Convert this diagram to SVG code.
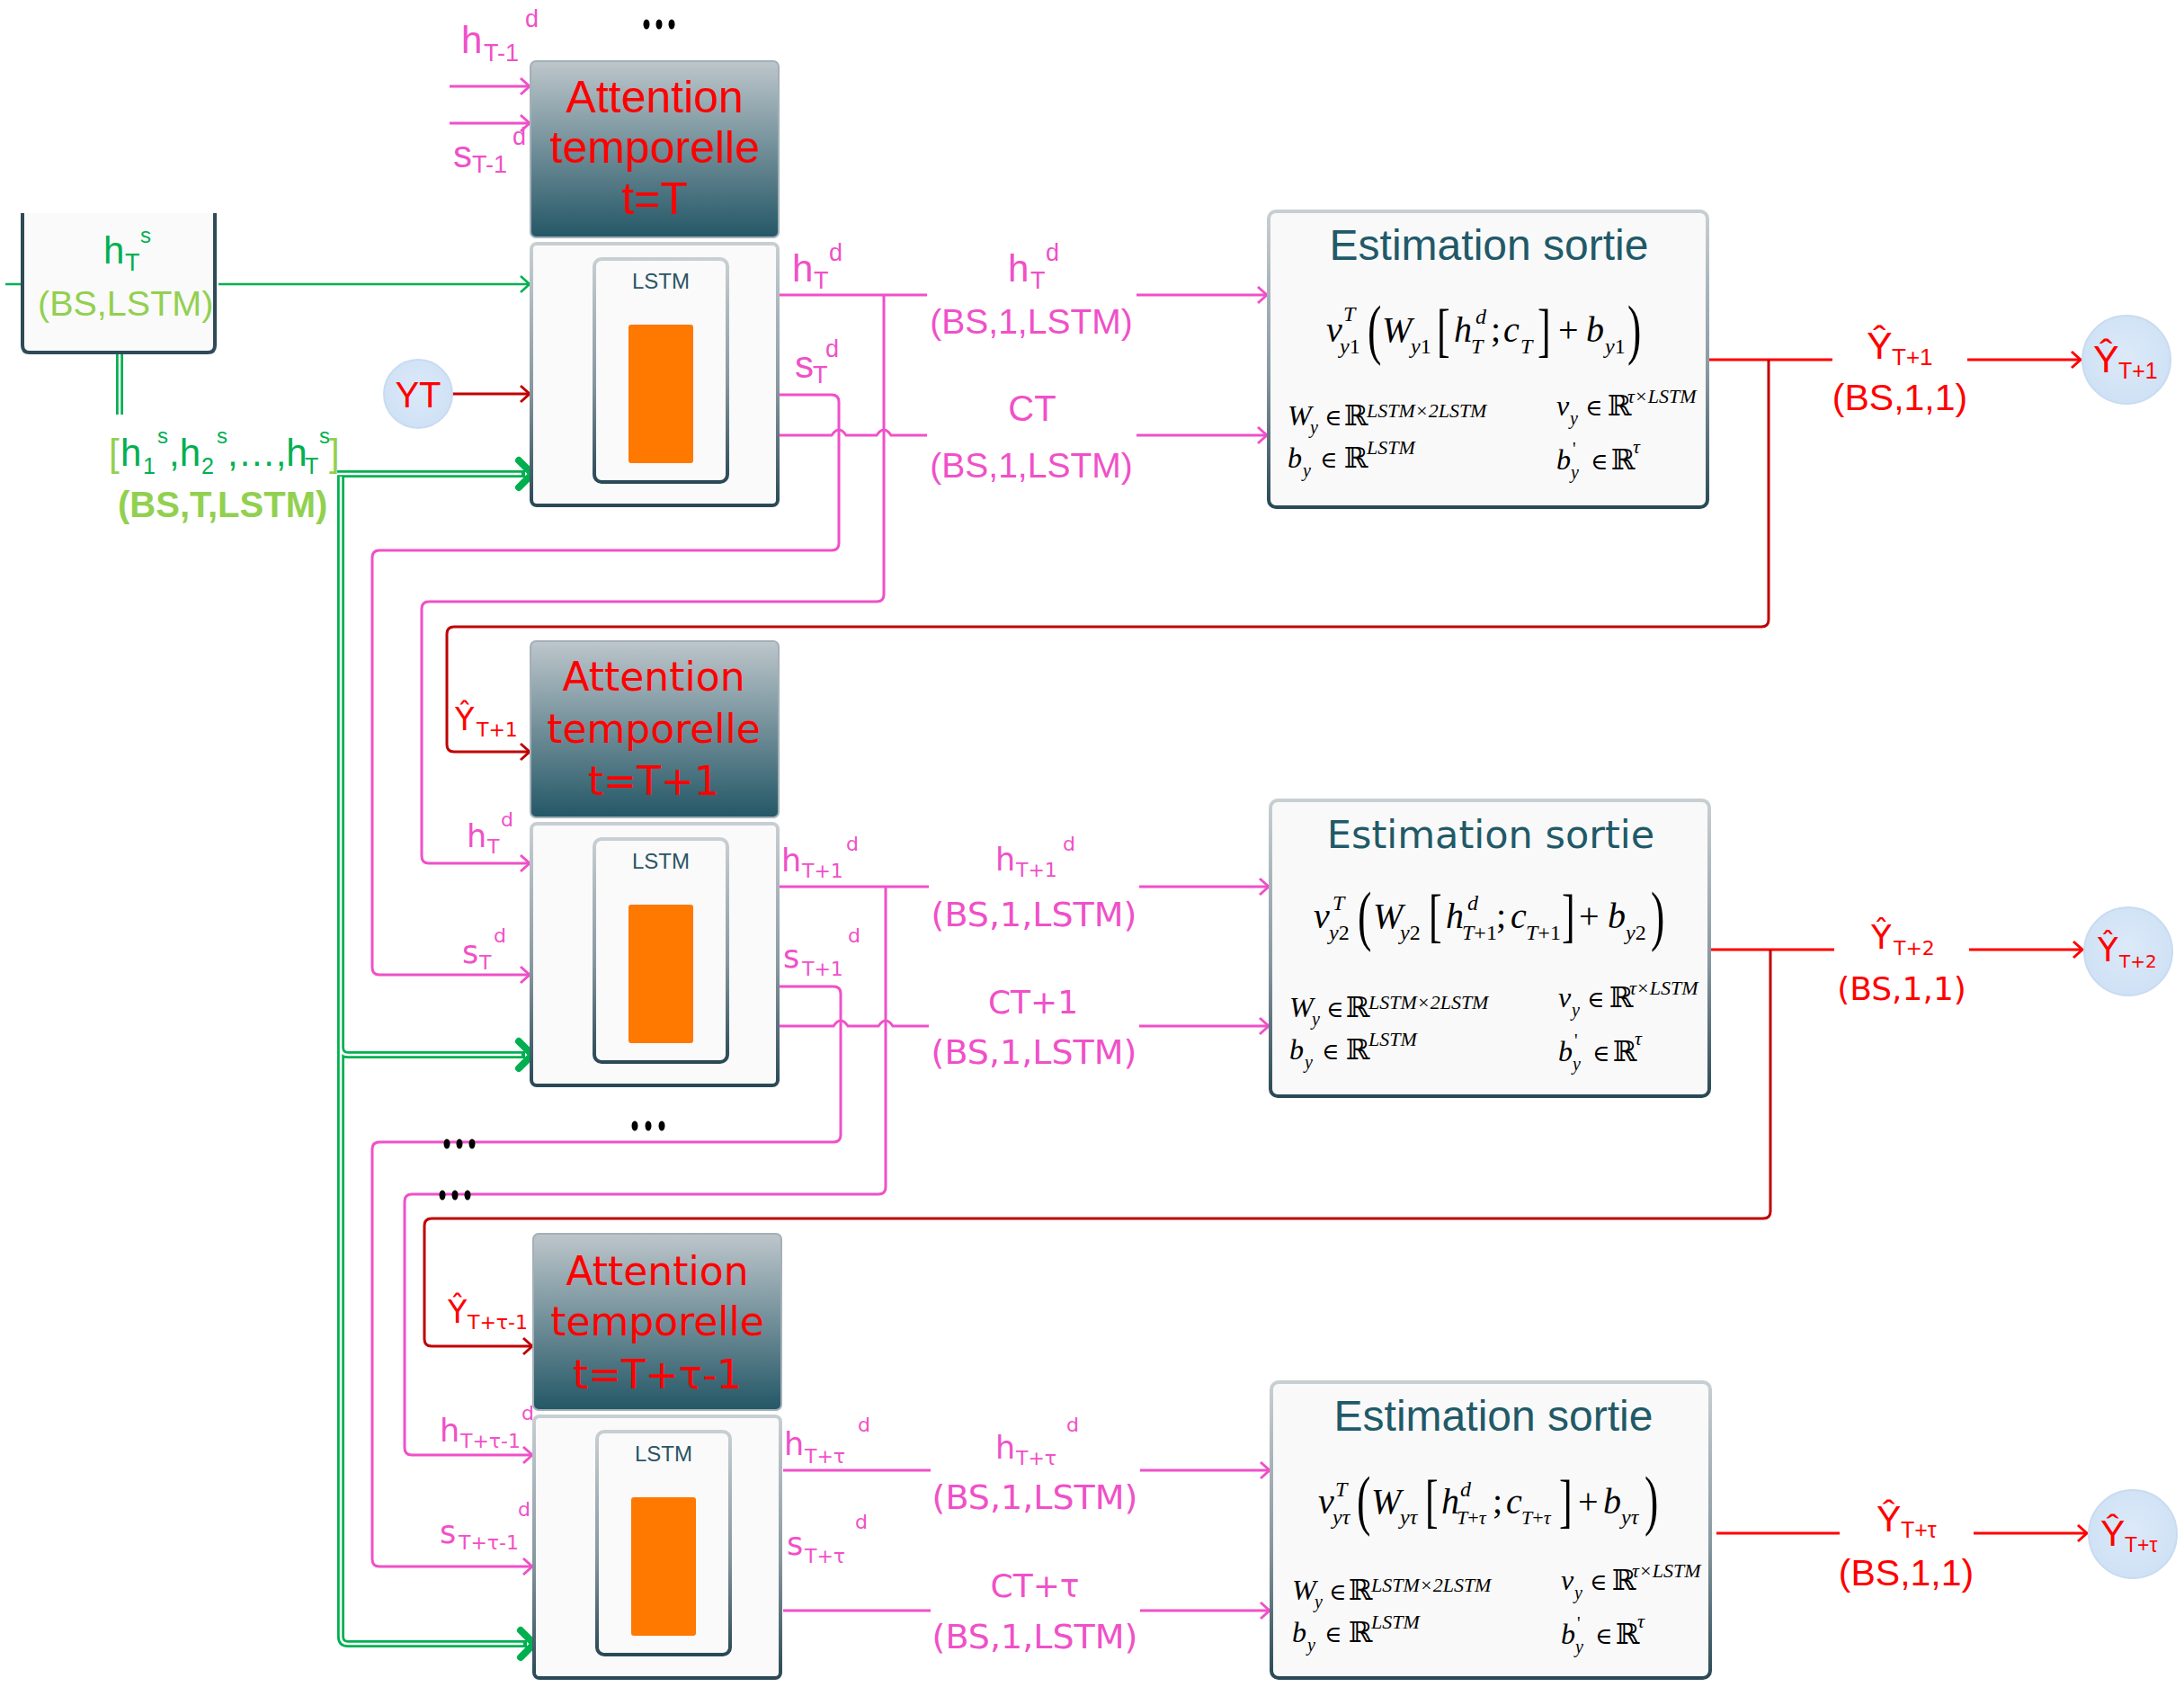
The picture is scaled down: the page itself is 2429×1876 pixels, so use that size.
<svg xmlns="http://www.w3.org/2000/svg" width="2429" height="1876" viewBox="0 0 2429 1876">
<style>
.ls{font-family:"Liberation Sans",Arial,sans-serif}
.dv{font-family:"DejaVu Sans",Verdana,sans-serif}
.mi{font-family:"Liberation Serif","DejaVu Serif","Times New Roman",serif;font-style:italic;fill:#000}
.mr{font-family:"Liberation Serif","DejaVu Serif","Times New Roman",serif;font-style:normal}
.bb{font-family:"DejaVu Serif",serif;font-style:normal}
.pk{fill:#F050C8}
.rd{fill:#FF0000}
.gr{fill:#00B050}
.lg{fill:#92D050}
.tl{fill:#215968}
.c{text-anchor:middle}
.wpk{fill:none;stroke:#F050C8;stroke-width:3}
.wrd{fill:none;stroke:#FF0000;stroke-width:3}
.wdr{fill:none;stroke:#C00000;stroke-width:3}
.wgr{fill:none;stroke:#00B050;stroke-width:2.5}
.bus{fill:none;stroke:#00B050;stroke-width:8}
.busin{fill:none;stroke:#FFFFFF;stroke-width:2.5}
.chev{fill:none;stroke:#00B050;stroke-width:8;stroke-linecap:round;stroke-linejoin:round}
.ball{fill:url(#gBall);stroke:#C9DBF0;stroke-width:2}
.dot{fill:#000}
</style>
<defs>
  <linearGradient id="gHead" x1="0" y1="0" x2="0" y2="1">
    <stop offset="0" stop-color="#BDC6CB"/>
    <stop offset="1" stop-color="#245766"/>
  </linearGradient>
  <linearGradient id="gEdge" x1="0" y1="0" x2="0" y2="1">
    <stop offset="0" stop-color="#C8CFD3"/>
    <stop offset="0.55" stop-color="#8797A0"/>
    <stop offset="1" stop-color="#2A4956"/>
  </linearGradient>
  <radialGradient id="gBall" cx="0.5" cy="0.45" r="0.55">
    <stop offset="0" stop-color="#DCEAF9"/>
    <stop offset="1" stop-color="#CFE1F5"/>
  </radialGradient>
  <marker id="mPk" markerUnits="userSpaceOnUse" markerWidth="16" markerHeight="22" refX="12" refY="11" orient="auto" overflow="visible">
    <path d="M2,2 L12,11 L2,20" fill="none" stroke="#F050C8" stroke-width="3"/>
  </marker>
  <marker id="mRd" markerUnits="userSpaceOnUse" markerWidth="16" markerHeight="22" refX="12" refY="11" orient="auto" overflow="visible">
    <path d="M2,2 L12,11 L2,20" fill="none" stroke="#FF0000" stroke-width="3"/>
  </marker>
  <marker id="mDr" markerUnits="userSpaceOnUse" markerWidth="16" markerHeight="22" refX="12" refY="11" orient="auto" overflow="visible">
    <path d="M2,2 L12,11 L2,20" fill="none" stroke="#C00000" stroke-width="3"/>
  </marker>
  <marker id="mGr" markerUnits="userSpaceOnUse" markerWidth="16" markerHeight="22" refX="12" refY="11" orient="auto" overflow="visible">
    <path d="M2,2 L12,11 L2,20" fill="none" stroke="#00B050" stroke-width="2.5"/>
  </marker>
  <!-- attention header + LSTM cell, drawn once and reused per time step -->
  <g id="cell">
    <rect x="590" y="68" width="276" height="196" rx="6" fill="url(#gHead)" stroke="#A3B0B7" stroke-width="2"/>
    <rect x="591" y="271" width="274" height="291" rx="6" fill="#FAFAFA" stroke="url(#gEdge)" stroke-width="4"/>
    <rect x="661" y="288" width="148" height="248" rx="8" fill="#FAFAFA" stroke="url(#gEdge)" stroke-width="4"/>
    <rect x="699" y="361" width="72" height="154" rx="3" fill="#FF7800"/>
  </g>
  <g id="estBox">
    <rect x="0" y="0" width="488" height="329" rx="8" fill="#F9F9F9" stroke="url(#gEdge)" stroke-width="4"/>
  </g>
</defs>

<rect width="2429" height="1876" fill="#FFFFFF"/>

<!-- connectors -->
<g id="connectors">
  <!-- green encoder links -->
  <path class="wgr" d="M6,316 H40"/>
  <path class="wgr" d="M243,316 H589" marker-end="url(#mGr)"/>
  <path class="bus" d="M133,392 V461"/>
  <path class="busin" d="M133,392 V461"/>
  <path class="bus" d="M375,527 H584 M379,527 V1820 Q379,1828 387,1828 H586 M379,1165 Q379,1173 387,1173 H584"/>
  <path class="busin" d="M375,527 H580 M379,530 V1820 Q379,1828 387,1828 H582 M379,1165 Q379,1173 387,1173 H580"/>
  <path class="chev" d="M577,512 L592,527 L577,542"/>
  <path class="chev" d="M577,1158 L592,1173 L577,1188"/>
  <path class="chev" d="M579,1813 L594,1828 L579,1843"/>

  <!-- step T inputs -->
  <path class="wpk" d="M500,96 H589" marker-end="url(#mPk)"/>
  <path class="wpk" d="M500,137 H589" marker-end="url(#mPk)"/>
  <path class="wdr" d="M502,438 H589" marker-end="url(#mDr)"/>

  <!-- step T outputs -->
  <path class="wpk" d="M866,328 H1031"/>
  <path class="wpk" d="M1264,328 H1409" marker-end="url(#mPk)"/>
  <path class="wpk" d="M866,484 H925 q8,-12 16,0 H975 q8,-12 16,0 H1031"/>
  <path class="wpk" d="M1264,484 H1409" marker-end="url(#mPk)"/>
  <path class="wpk" d="M866,439 H925 q8,0 8,8 V604 q0,8 -8,8 H422 q-8,0 -8,8 V1076 q0,8 8,8 H589" marker-end="url(#mPk)"/>
  <path class="wpk" d="M983,328 V661 q0,8 -8,8 H477 q-8,0 -8,8 V952 q0,8 8,8 H589" marker-end="url(#mPk)"/>
  <path class="wrd" d="M1900,400 H2038"/>
  <path class="wrd" d="M2188,400 H2314" marker-end="url(#mRd)"/>
  <path class="wdr" d="M1967,400 V689 q0,8 -8,8 H505 q-8,0 -8,8 V828 q0,8 8,8 H589" marker-end="url(#mDr)"/>

  <!-- step T+1 outputs -->
  <path class="wpk" d="M867,986 H1033"/>
  <path class="wpk" d="M1267,986 H1411" marker-end="url(#mPk)"/>
  <path class="wpk" d="M867,1141 H927 q8,-12 16,0 H977 q8,-12 16,0 H1033"/>
  <path class="wpk" d="M1267,1141 H1411" marker-end="url(#mPk)"/>
  <path class="wpk" d="M867,1097 H927 q8,0 8,8 V1262 q0,8 -8,8 H422 q-8,0 -8,8 V1734 q0,8 8,8 H592" marker-end="url(#mPk)"/>
  <path class="wpk" d="M985,986 V1320 q0,8 -8,8 H458 q-8,0 -8,8 V1610 q0,8 8,8 H592" marker-end="url(#mPk)"/>
  <path class="wrd" d="M1902,1056 H2040"/>
  <path class="wrd" d="M2190,1056 H2316" marker-end="url(#mRd)"/>
  <path class="wdr" d="M1969,1056 V1347 q0,8 -8,8 H480 q-8,0 -8,8 V1489 q0,8 8,8 H592" marker-end="url(#mDr)"/>

  <!-- step T+tau outputs -->
  <path class="wpk" d="M871,1635 H1035"/>
  <path class="wpk" d="M1268,1635 H1412" marker-end="url(#mPk)"/>
  <path class="wpk" d="M871,1791 H1035"/>
  <path class="wpk" d="M1268,1791 H1412" marker-end="url(#mPk)"/>
  <path class="wrd" d="M1909,1705 H2046"/>
  <path class="wrd" d="M2195,1705 H2321" marker-end="url(#mRd)"/>

  <!-- ellipsis dots -->
  <ellipse class="dot" cx="719" cy="27" rx="3.5" ry="5.5"/>
  <ellipse class="dot" cx="733" cy="27" rx="3.5" ry="5.5"/>
  <ellipse class="dot" cx="747" cy="27" rx="3.5" ry="5.5"/>
  <ellipse class="dot" cx="706" cy="1252" rx="3.5" ry="5.5"/>
  <ellipse class="dot" cx="721" cy="1252" rx="3.5" ry="5.5"/>
  <ellipse class="dot" cx="736" cy="1252" rx="3.5" ry="5.5"/>
  <ellipse class="dot" cx="497" cy="1272" rx="3.5" ry="5.5"/>
  <ellipse class="dot" cx="511" cy="1272" rx="3.5" ry="5.5"/>
  <ellipse class="dot" cx="525" cy="1272" rx="3.5" ry="5.5"/>
  <ellipse class="dot" cx="492" cy="1329" rx="3.5" ry="5.5"/>
  <ellipse class="dot" cx="506" cy="1329" rx="3.5" ry="5.5"/>
  <ellipse class="dot" cx="520" cy="1329" rx="3.5" ry="5.5"/>
</g>

<!-- encoder hidden state -->
<g id="encoder-state">
  <rect x="25" y="237" width="214" height="153" fill="#FAFAFA"/>
  <path d="M25,237 V384 q0,8 8,8 H231 q8,0 8,-8 V237" fill="none" stroke="#2E4B57" stroke-width="4"/>
  <text class="ls gr" font-size="42"><tspan x="115" y="293">h</tspan><tspan x="139" y="301" font-size="27">T</tspan><tspan x="156" y="270" font-size="24">s</tspan></text>
  <text class="ls lg" x="42" y="351" font-size="39.5">(BS,LSTM)</text>
</g>

<g id="encoder-sequence">
  <text class="ls gr" font-size="42"><tspan class="lg" x="121" y="518">[</tspan><tspan x="134" y="518">h</tspan><tspan x="159" y="527" font-size="25">1</tspan><tspan x="175" y="493" font-size="24">s</tspan><tspan x="188" y="518">,h</tspan><tspan x="224" y="527" font-size="25">2</tspan><tspan x="241" y="493" font-size="24">s</tspan><tspan x="253" y="518">,…,h</tspan><tspan x="339" y="527" font-size="25">T</tspan><tspan x="355" y="493" font-size="24">s</tspan><tspan class="lg" x="366" y="518">]</tspan></text>
  <text class="ls lg" x="131" y="575" font-size="40" font-weight="bold">(BS,T,LSTM)</text>
</g>

<g id="input-yt">
  <circle class="ball" cx="465" cy="438" r="38"/>
  <text class="ls rd c" x="465" y="453" font-size="40">YT</text>
</g>

<!-- decoder step t=T -->
<g id="step-T">
  <use href="#cell"/>
  <text class="ls rd c" font-size="50"><tspan x="728" y="125">Attention</tspan><tspan x="728" y="181">temporelle</tspan><tspan x="728" y="238">t=T</tspan></text>
  <text class="ls c" x="735" y="321" font-size="24" fill="#2A5565">LSTM</text>
  <text class="ls pk" font-size="42"><tspan x="513" y="59">h</tspan><tspan x="538" y="68" font-size="27">T-1</tspan><tspan x="584" y="30" font-size="27">d</tspan></text>
  <text class="ls pk" font-size="42"><tspan x="504" y="186">s</tspan><tspan x="525" y="192" font-size="27">T-1</tspan><tspan x="570" y="161" font-size="27">d</tspan></text>
  <text class="ls pk" font-size="42"><tspan x="881" y="313">h</tspan><tspan x="905" y="321" font-size="27">T</tspan><tspan x="922" y="290" font-size="27">d</tspan></text>
  <text class="ls pk" font-size="42"><tspan x="884" y="420">s</tspan><tspan x="904" y="426" font-size="27">T</tspan><tspan x="918" y="397" font-size="27">d</tspan></text>
  <text class="ls pk" font-size="42"><tspan x="1121" y="313">h</tspan><tspan x="1146" y="321" font-size="27">T</tspan><tspan x="1163" y="290" font-size="27">d</tspan></text>
  <text class="ls pk c" x="1147" y="371" font-size="39">(BS,1,LSTM)</text>
  <text class="ls pk c" x="1148" y="468" font-size="40">CT</text>
  <text class="ls pk c" x="1147" y="531" font-size="39">(BS,1,LSTM)</text>
</g>

<g id="output-T">
  <use href="#estBox" x="1411" y="235"/>
  <text class="ls tl c" x="1656" y="289" font-size="48">Estimation sortie</text>
  <g class="mi" font-size="40">
    <text x="1475" y="380">v</text>
    <text x="1494" y="357" font-size="24">T</text>
    <text x="1490" y="393" font-size="24">y<tspan class="mr">1</tspan></text>
    <text class="mr" font-size="46" transform="translate(1521,391) scale(1,1.6)">(</text>
    <text x="1537" y="380">W</text>
    <text x="1569" y="393" font-size="24">y<tspan class="mr">1</tspan></text>
    <text class="mr" font-size="44" transform="translate(1598,389) scale(1,1.5)">[</text>
    <text x="1617" y="380">h</text>
    <text x="1641" y="360" font-size="24">d</text>
    <text x="1636" y="393" font-size="24">T</text>
    <text class="mr" x="1658" y="380">;</text>
    <text x="1672" y="380">c</text>
    <text x="1691" y="393" font-size="24">T</text>
    <text class="mr" font-size="44" transform="translate(1710,389) scale(1,1.5)">]</text>
    <text class="mr" x="1733" y="380">+</text>
    <text x="1764" y="380">b</text>
    <text x="1785" y="393" font-size="24">y<tspan class="mr">1</tspan></text>
    <text class="mr" font-size="46" transform="translate(1810,391) scale(1,1.6)">)</text>
  </g>
  <g class="mi" font-size="32" transform="translate(1411,235)">
    <text x="21" y="238">W</text><text x="46" y="247" font-size="20">y</text>
    <text class="mr" x="62" y="238" font-size="26">∈</text><text class="bb" x="84" y="238">ℝ</text>
    <text x="109" y="229" font-size="22">LSTM×2LSTM</text>
    <text x="21" y="285">b</text><text x="38" y="295" font-size="20">y</text>
    <text class="mr" x="57" y="285" font-size="26">∈</text><text class="bb" x="84" y="285">ℝ</text>
    <text x="109" y="270" font-size="22">LSTM</text>
    <text x="320" y="227">v</text><text x="335" y="237" font-size="20">y</text>
    <text class="mr" x="352" y="227" font-size="26">∈</text><text class="bb" x="377" y="227">ℝ</text>
    <text x="399" y="213" font-size="22">τ×LSTM</text>
    <text x="320" y="287">b</text><text class="mr" x="338" y="271" font-size="20">'</text><text x="336" y="297" font-size="20">y</text>
    <text class="mr" x="358" y="287" font-size="26">∈</text><text class="bb" x="381" y="287">ℝ</text>
    <text x="405" y="269" font-size="22">τ</text>
  </g>
  <text class="ls rd" font-size="43"><tspan x="2076" y="399">Ŷ</tspan><tspan x="2104" y="406" font-size="26">T+1</tspan></text>
  <text class="ls rd c" x="2113" y="456" font-size="41">(BS,1,1)</text>
</g>

<g id="pred-T1">
  <circle class="ball" cx="2365" cy="400" r="49"/>
  <text class="ls rd" font-size="43"><tspan x="2328" y="414">Ŷ</tspan><tspan x="2356" y="421" font-size="25">T+1</tspan></text>
</g>

<!-- decoder step t=T+1 -->
<g id="step-T1">
  <use href="#cell" y="645"/>
  <text class="dv rd c" font-size="44"><tspan x="727" y="768">Attention</tspan><tspan x="727" y="826">temporelle</tspan><tspan x="727" y="884">t=T+1</tspan></text>
  <text class="ls c" x="735" y="966" font-size="24" fill="#2A5565">LSTM</text>
  <text class="dv rd" font-size="35"><tspan x="506" y="812">Ŷ</tspan><tspan x="530" y="819" font-size="22">T+1</tspan></text>
  <text class="dv pk" font-size="35"><tspan x="519" y="942">h</tspan><tspan x="542" y="949" font-size="22">T</tspan><tspan x="557" y="919" font-size="22">d</tspan></text>
  <text class="dv pk" font-size="35"><tspan x="514" y="1071">s</tspan><tspan x="533" y="1078" font-size="22">T</tspan><tspan x="549" y="1048" font-size="22">d</tspan></text>
  <text class="dv pk" font-size="35"><tspan x="869" y="969">h</tspan><tspan x="892" y="976" font-size="22">T+1</tspan><tspan x="941" y="946" font-size="22">d</tspan></text>
  <text class="dv pk" font-size="35"><tspan x="871" y="1076">s</tspan><tspan x="892" y="1085" font-size="22">T+1</tspan><tspan x="943" y="1048" font-size="22">d</tspan></text>
  <text class="dv pk" font-size="35"><tspan x="1107" y="968">h</tspan><tspan x="1130" y="975" font-size="22">T+1</tspan><tspan x="1182" y="946" font-size="22">d</tspan></text>
  <text class="dv pk c" x="1150" y="1030" font-size="38">(BS,1,LSTM)</text>
  <text class="dv pk c" x="1149" y="1127" font-size="36">CT+1</text>
  <text class="dv pk c" x="1150" y="1183" font-size="38">(BS,1,LSTM)</text>
</g>

<g id="output-T1">
  <use href="#estBox" x="1413" y="890" />
  <text class="dv tl c" x="1658" y="943" font-size="43">Estimation sortie</text>
  <g class="mi" font-size="40">
    <text x="1461" y="1032">v</text>
    <text x="1482" y="1012" font-size="24">T</text>
    <text x="1478" y="1045" font-size="24">y<tspan class="mr">2</tspan></text>
    <text class="mr" font-size="46" transform="translate(1510,1043) scale(1,1.6)">(</text>
    <text x="1527" y="1032">W</text>
    <text x="1557" y="1045" font-size="24">y<tspan class="mr">2</tspan></text>
    <text class="mr" font-size="44" transform="translate(1589,1040) scale(1,1.5)">[</text>
    <text x="1608" y="1032">h</text>
    <text x="1632" y="1012" font-size="24">d</text>
    <text x="1626" y="1045" font-size="24">T<tspan class="mr">+1</tspan></text>
    <text class="mr" x="1664" y="1032">;</text>
    <text x="1680" y="1032">c</text>
    <text x="1697" y="1045" font-size="24">T<tspan class="mr">+1</tspan></text>
    <text class="mr" font-size="44" transform="translate(1737,1040) scale(1,1.5)">]</text>
    <text class="mr" x="1756" y="1032">+</text>
    <text x="1788" y="1032">b</text>
    <text x="1808" y="1045" font-size="24">y<tspan class="mr">2</tspan></text>
    <text class="mr" font-size="46" transform="translate(1836,1043) scale(1,1.6)">)</text>
  </g>
  <g class="mi" font-size="32" transform="translate(1413,893)">
    <text x="21" y="238">W</text><text x="46" y="247" font-size="20">y</text>
    <text class="mr" x="62" y="238" font-size="26">∈</text><text class="bb" x="84" y="238">ℝ</text>
    <text x="109" y="229" font-size="22">LSTM×2LSTM</text>
    <text x="21" y="285">b</text><text x="38" y="295" font-size="20">y</text>
    <text class="mr" x="57" y="285" font-size="26">∈</text><text class="bb" x="84" y="285">ℝ</text>
    <text x="109" y="270" font-size="22">LSTM</text>
    <text x="320" y="227">v</text><text x="335" y="237" font-size="20">y</text>
    <text class="mr" x="352" y="227" font-size="26">∈</text><text class="bb" x="377" y="227">ℝ</text>
    <text x="399" y="213" font-size="22">τ×LSTM</text>
    <text x="320" y="287">b</text><text class="mr" x="338" y="271" font-size="20">'</text><text x="336" y="297" font-size="20">y</text>
    <text class="mr" x="358" y="287" font-size="26">∈</text><text class="bb" x="381" y="287">ℝ</text>
    <text x="405" y="269" font-size="22">τ</text>
  </g>
  <text class="dv rd" font-size="37"><tspan x="2081" y="1055">Ŷ</tspan><tspan x="2106" y="1062" font-size="22">T+2</tspan></text>
  <text class="dv rd c" x="2115" y="1112" font-size="36">(BS,1,1)</text>
</g>

<g id="pred-T2">
  <circle class="ball" cx="2367" cy="1058" r="49"/>
  <text class="dv rd" font-size="37"><tspan x="2333" y="1069">Ŷ</tspan><tspan x="2357" y="1076" font-size="20">T+2</tspan></text>
</g>

<!-- decoder step t=T+tau-1 -->
<g id="step-Ttau">
  <use href="#cell" x="3" y="1304"/>
  <text class="dv rd c" font-size="44"><tspan x="731" y="1429">Attention</tspan><tspan x="731" y="1485">temporelle</tspan><tspan x="731" y="1544">t=T+τ-1</tspan></text>
  <text class="ls c" x="738" y="1625" font-size="24" fill="#2A5565">LSTM</text>
  <text class="dv rd" font-size="35"><tspan x="498" y="1471">Ŷ</tspan><tspan x="520" y="1478" font-size="22">T+τ-1</tspan></text>
  <text class="dv pk" font-size="35"><tspan x="489" y="1603">h</tspan><tspan x="512" y="1610" font-size="22">T+τ-1</tspan><tspan x="580" y="1579" font-size="22">d</tspan></text>
  <text class="dv pk" font-size="35"><tspan x="489" y="1716">s</tspan><tspan x="510" y="1723" font-size="22">T+τ-1</tspan><tspan x="576" y="1686" font-size="22">d</tspan></text>
  <text class="dv pk" font-size="35"><tspan x="872" y="1618">h</tspan><tspan x="895" y="1627" font-size="22">T+τ</tspan><tspan x="954" y="1592" font-size="22">d</tspan></text>
  <text class="dv pk" font-size="35"><tspan x="875" y="1729">s</tspan><tspan x="895" y="1738" font-size="22">T+τ</tspan><tspan x="951" y="1700" font-size="22">d</tspan></text>
  <text class="dv pk" font-size="35"><tspan x="1107" y="1622">h</tspan><tspan x="1130" y="1629" font-size="22">T+τ</tspan><tspan x="1186" y="1592" font-size="22">d</tspan></text>
  <text class="dv pk c" x="1151" y="1678" font-size="38">(BS,1,LSTM)</text>
  <text class="dv pk c" x="1151" y="1776" font-size="36">CT+τ</text>
  <text class="dv pk c" x="1151" y="1833" font-size="38">(BS,1,LSTM)</text>
</g>

<g id="output-Ttau">
  <use href="#estBox" x="1414" y="1537"/>
  <text class="ls tl c" x="1661" y="1591" font-size="48">Estimation sortie</text>
  <g class="mi" font-size="40">
    <text x="1466" y="1683">v</text>
    <text x="1485" y="1664" font-size="24">T</text>
    <text x="1482" y="1695" font-size="24">yτ</text>
    <text class="mr" font-size="46" transform="translate(1509,1693) scale(1,1.6)">(</text>
    <text x="1525" y="1683">W</text>
    <text x="1557" y="1695" font-size="24">yτ</text>
    <text class="mr" font-size="44" transform="translate(1585,1691) scale(1,1.5)">[</text>
    <text x="1603" y="1683">h</text>
    <text x="1624" y="1664" font-size="24">d</text>
    <text x="1620" y="1695" font-size="22">T<tspan class="mr">+</tspan>τ</text>
    <text class="mr" x="1660" y="1683">;</text>
    <text x="1675" y="1683">c</text>
    <text x="1692" y="1695" font-size="22">T<tspan class="mr">+</tspan>τ</text>
    <text class="mr" font-size="44" transform="translate(1734,1691) scale(1,1.5)">]</text>
    <text class="mr" x="1755" y="1683">+</text>
    <text x="1783" y="1683">b</text>
    <text x="1803" y="1695" font-size="24">yτ</text>
    <text class="mr" font-size="46" transform="translate(1829,1693) scale(1,1.6)">)</text>
  </g>
  <g class="mi" font-size="32" transform="translate(1416,1541)">
    <text x="21" y="238">W</text><text x="46" y="247" font-size="20">y</text>
    <text class="mr" x="62" y="238" font-size="26">∈</text><text class="bb" x="84" y="238">ℝ</text>
    <text x="109" y="229" font-size="22">LSTM×2LSTM</text>
    <text x="21" y="285">b</text><text x="38" y="295" font-size="20">y</text>
    <text class="mr" x="57" y="285" font-size="26">∈</text><text class="bb" x="84" y="285">ℝ</text>
    <text x="109" y="270" font-size="22">LSTM</text>
    <text x="320" y="227">v</text><text x="335" y="237" font-size="20">y</text>
    <text class="mr" x="352" y="227" font-size="26">∈</text><text class="bb" x="377" y="227">ℝ</text>
    <text x="399" y="213" font-size="22">τ×LSTM</text>
    <text x="320" y="287">b</text><text class="mr" x="338" y="271" font-size="20">'</text><text x="336" y="297" font-size="20">y</text>
    <text class="mr" x="358" y="287" font-size="26">∈</text><text class="bb" x="381" y="287">ℝ</text>
    <text x="405" y="269" font-size="22">τ</text>
  </g>
  <text class="ls rd" font-size="41"><tspan x="2087" y="1703">Ŷ</tspan><tspan x="2114" y="1710" font-size="25">T+τ</tspan></text>
  <text class="ls rd c" x="2120" y="1763" font-size="41">(BS,1,1)</text>
</g>

<g id="pred-Ttau">
  <circle class="ball" cx="2372" cy="1706" r="49"/>
  <text class="ls rd" font-size="41"><tspan x="2336" y="1719">Ŷ</tspan><tspan x="2363" y="1726" font-size="23">T+τ</tspan></text>
</g>
</svg>
